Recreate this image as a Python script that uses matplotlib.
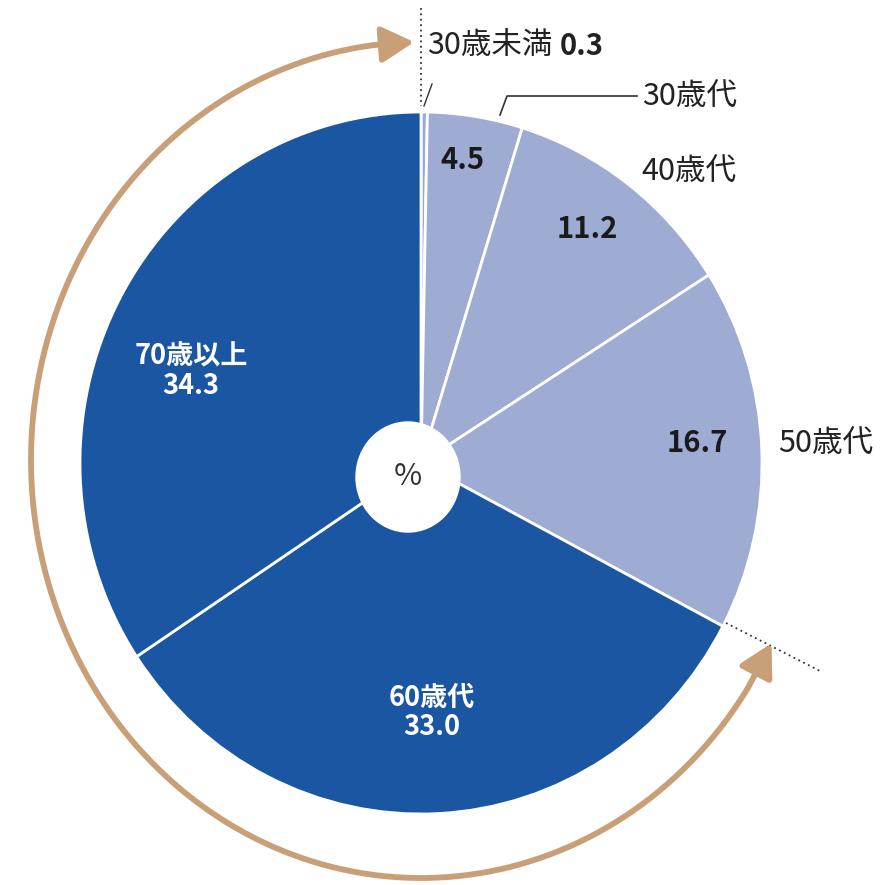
import numpy as np
import matplotlib.pyplot as plt
from matplotlib.patches import Ellipse

plt.rcParams['font.family'] = ['Noto Sans CJK JP', 'DejaVu Sans']

# data
ages = ['30歳未満', '30歳代', '40歳代', '50歳代', '60歳代', '70歳以上']
shares = [0.3, 4.5, 11.2, 16.7, 33.0, 34.3]
light = '#9eabd3'
dark = '#1a56a2'
colors = [light, light, light, light, dark, dark]
tan = '#c99f78'

# pixel frame of the picture (pie is a bit stretched vertically)
CX, CY = 421, 463
RX, RY = 341, 351


def P(x, y):
    return (x - CX) / RX, (CY - y) / RY


fig = plt.figure(figsize=(8.85, 8.85), dpi=100)
ax = fig.add_axes([0, 0, 1, 1])

ax.pie(shares, colors=colors, startangle=90, counterclock=False,
       wedgeprops=dict(edgecolor='white', linewidth=2))
ax.set_aspect('auto')
ax.set_xlim(P(0, 0)[0], P(885, 0)[0])
ax.set_ylim(P(0, 885)[1], P(0, 0)[1])
ax.axis('off')

# center hole
hx, hy = P(408, 477)
ax.add_patch(Ellipse((hx, hy), 104 / RX, 110 / RY, color='white', zorder=3))
ax.text(hx, hy, '%', fontsize=22, ha='center', va='center', color='#333333', zorder=4)

# dotted guide lines
ax.plot(*zip(P(421, 8), P(421, 106)), ls=(0, (1, 2)), color='#333333', lw=1.3)
ax.plot(*zip(P(726, 623), P(820, 671)), ls=(0, (1, 2)), color='#333333', lw=1.3)

# big arc with arrows
ecx, ecy = P(421, 460)
erx, ery = 390 / RX, 418 / RY
t = np.radians(np.linspace(97, 327, 300))
ax.plot(ecx + erx * np.cos(t), ecy + ery * np.sin(t), color=tan, lw=4.2,
        solid_capstyle='butt')
for a0, a1 in [(97, 91), (327, 334)]:
    p0 = (ecx + erx * np.cos(np.radians(a0)), ecy + ery * np.sin(np.radians(a0)))
    p1 = (ecx + erx * np.cos(np.radians(a1)), ecy + ery * np.sin(np.radians(a1)))
    ax.annotate('', xy=p1, xytext=p0,
                arrowprops=dict(arrowstyle='-|>,head_length=0.9,head_width=0.5',
                                color=tan, lw=4.2, mutation_scale=22,
                                shrinkA=0, shrinkB=0))

# leader lines
ax.plot(*zip(P(424, 106), P(432, 84)), color='#333333', lw=1)
ax.plot(*zip(P(500, 115), P(507, 96), P(637, 96)), color='#333333', lw=1.2)

fs = 22
ax.text(*P(427, 46), ages[0], fontsize=fs, ha='left', va='center', color='#222222')
ax.text(*P(560, 46), f'{shares[0]:.1f}', fontsize=21, ha='left', va='center',
        fontweight='bold', color='#222222')
ax.text(*P(642, 97), ages[1], fontsize=fs, ha='left', va='center', color='#222222')
ax.text(*P(641, 172), ages[2], fontsize=fs, ha='left', va='center', color='#222222')
ax.text(*P(778, 444), ages[3], fontsize=fs, ha='left', va='center', color='#222222')

# values inside slices
fb = 21
ax.text(*P(462, 160), f'{shares[1]:.1f}', fontsize=fb, ha='center', va='center',
        fontweight='bold', color='#1a1a1a')
ax.text(*P(587, 229), f'{shares[2]:.1f}', fontsize=fb, ha='center', va='center',
        fontweight='bold', color='#1a1a1a')
ax.text(*P(697, 443), f'{shares[3]:.1f}', fontsize=fb, ha='center', va='center',
        fontweight='bold', color='#1a1a1a')
ax.text(*P(191, 371), f'{ages[5]}\n{shares[5]:.1f}', fontsize=19.5, ha='center',
        va='center', fontweight='bold', color='white', linespacing=1.05)
ax.text(*P(432, 712), f'{ages[4]}\n{shares[4]:.1f}', fontsize=19.5, ha='center',
        va='center', fontweight='bold', color='white', linespacing=1.05)

fig.savefig('out.png', dpi=100)
